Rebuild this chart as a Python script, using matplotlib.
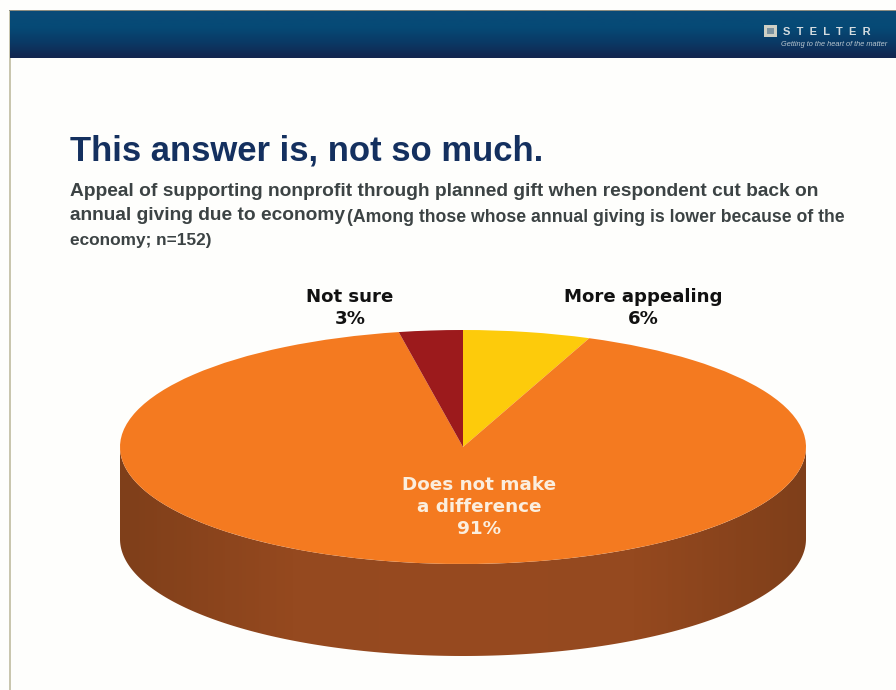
import numpy as np
import matplotlib
matplotlib.use('Agg')
import matplotlib.pyplot as plt
from matplotlib.colors import LinearSegmentedColormap
from matplotlib.patches import Polygon, Rectangle

W, H = 896, 690

labels = ['More appealing', 'Does not make\na difference', 'Not sure']
shares = [6, 91, 3]
colors = ['#fdcb0b', '#f47a20', '#9c1a1c']
title = 'This answer is, not so much.'
subtitle_1 = 'Appeal of supporting nonprofit through planned gift when respondent cut back on'
subtitle_2 = 'annual giving due to economy'
subtitle_3 = '(Among those whose annual giving is lower because of the'
subtitle_4 = 'economy; n=152)'
logo_name = 'S  T  E  L  T  E  R'
logo_tag = 'Getting to the heart of the matter'

PIE_LEFT, PIE_RIGHT, PIE_TOP, PIE_MID, PIE_BOTTOM = 120, 806, 330, 447, 656
DEPTH = (PIE_BOTTOM - (2 * PIE_MID - PIE_TOP)) / (PIE_MID - PIE_TOP)


def px_axes(fig, left, top, right, bottom, **kw):
    return fig.add_axes([left / W, 1 - bottom / H, (right - left) / W, (bottom - top) / H], **kw)


def px_text(x, y, s, **kw):
    return fig.text(x / W, 1 - y / H, s, **kw)


fig = plt.figure(figsize=(W / 100, H / 100), dpi=100, facecolor='#fefdfb')

# slide frame and header band
frame = px_axes(fig, 0, 0, W, H)
frame.set_xlim(0, W)
frame.set_ylim(H, 0)
frame.axis('off')
frame.add_patch(Rectangle((0, 0), W, H, color='#fefefc', zorder=0))
frame.add_patch(Rectangle((9, 10), 1.5, H - 10, color='#c9c6ae', lw=0))
band = LinearSegmentedColormap.from_list('band', ['#0a4a78', '#064a76', '#0a3a66', '#13264f'])
frame.imshow(np.linspace(0, 1, 48)[:, None], extent=(10, W, 58, 11), cmap=band, aspect='auto', zorder=1)
frame.add_patch(Rectangle((9, 9.5), W, 1.5, color='#8e8d80', lw=0, zorder=2))
frame.set_xlim(0, W)
frame.set_ylim(H, 0)

# logo mark
frame.add_patch(Rectangle((764, 25), 13, 12, color='#cfcfc4', lw=0, zorder=3))
frame.add_patch(Rectangle((767, 28), 7, 6, color='#7d93a0', lw=0, zorder=4))
px_text(783, 32, logo_name, color='#d5dce0', fontsize=8, fontweight='bold',
        family='Liberation Sans', va='center', ha='left')
px_text(781, 45, logo_tag, color='#b9c6cf', fontsize=5.3, style='italic',
        family='Liberation Sans', va='center', ha='left')

# headline and description
px_text(70, 151, title, color='#14305f', fontsize=24.9, fontweight='bold',
        family='Liberation Sans', va='center')
px_text(70, 192, subtitle_1, color='#3c4344', fontsize=13.8, fontweight='bold',
        family='Liberation Sans', va='center')
px_text(70, 216, subtitle_2, color='#3c4344', fontsize=13.8, fontweight='bold',
        family='Liberation Sans', va='center')
px_text(347, 217, subtitle_3, color='#3c4344', fontsize=12.7, fontweight='bold',
        family='Liberation Sans', va='center')
px_text(70, 240, subtitle_4, color='#3c4344', fontsize=12.4, fontweight='bold',
        family='Liberation Sans', va='center')

# pie squashed into an ellipse, with the extruded rim below it
ax = px_axes(fig, PIE_LEFT, PIE_TOP, PIE_RIGHT, PIE_BOTTOM)
ax.patch.set_alpha(0)
wedges, _ = ax.pie(shares, colors=colors, startangle=90, counterclock=False, radius=1,
                   wedgeprops={'linewidth': 0})
ax.set_aspect('auto')
ax.set_xlim(-1, 1)
ax.set_ylim(-1 - DEPTH, 1)

theta = np.linspace(np.pi, 2 * np.pi, 200)
rim_x = np.cos(theta)
rim_top = np.sin(theta)
rim_path = np.concatenate([np.column_stack([rim_x, rim_top]),
                           np.column_stack([rim_x[::-1], rim_top[::-1] - DEPTH])])
rim = LinearSegmentedColormap.from_list('rim', ['#7f3f1a', '#95491f', '#974a20', '#95491f', '#7f3f1a'])
shade = ax.imshow(np.linspace(0, 1, 300)[None, :], extent=(-1, 1, -1 - DEPTH, 0), cmap=rim,
                  aspect='auto', zorder=0)
shade.set_clip_path(Polygon(rim_path, transform=ax.transData))
ax.set_xlim(-1, 1)
ax.set_ylim(-1 - DEPTH, 1)

# slice captions
px_text(350, 308, f'{labels[2]}\n{shares[2]}%', color='#111111', fontsize=13.1, fontweight='bold',
        family='DejaVu Sans', ha='center', va='center', linespacing=1.3)
px_text(643, 308, f'{labels[0]}\n{shares[0]}%', color='#111111', fontsize=13.1, fontweight='bold',
        family='DejaVu Sans', ha='center', va='center', linespacing=1.3)
px_text(479, 507, f'{labels[1]}\n{shares[1]}%', color='#fbeede', fontsize=13.2,
        family='DejaVu Sans', ha='center', va='center', linespacing=1.25, fontweight='bold')

fig.savefig('out.png', dpi=100)
